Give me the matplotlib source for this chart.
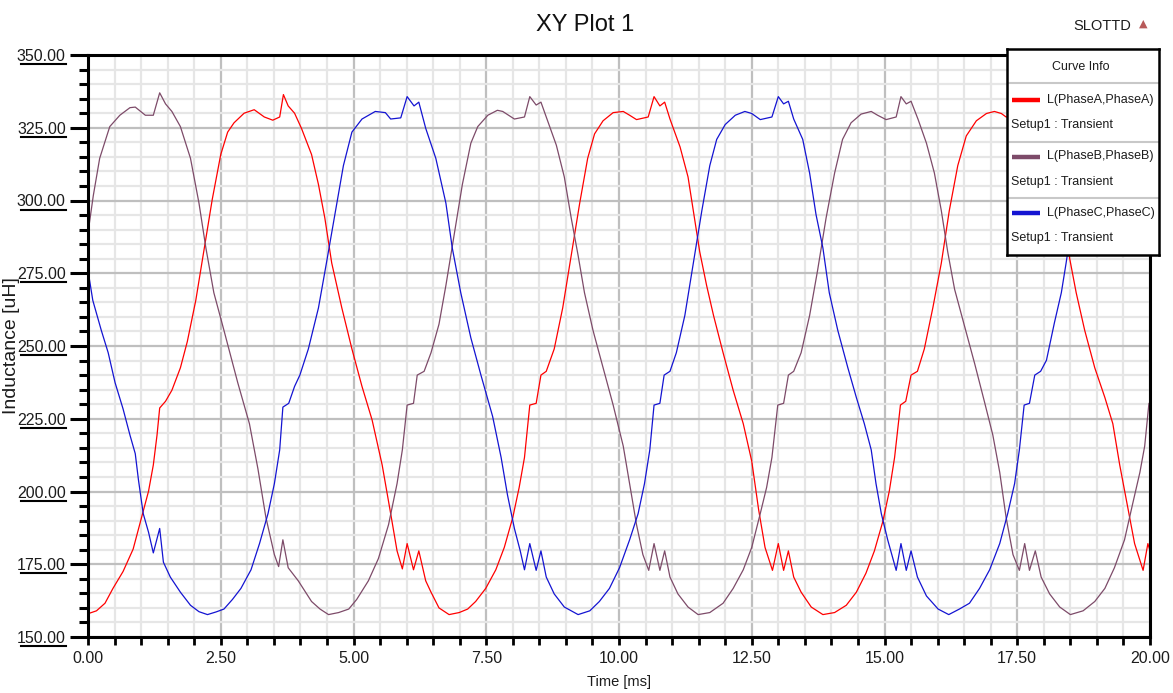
import matplotlib.pyplot as plt
import matplotlib.transforms as mtransforms
from matplotlib.ticker import MultipleLocator, FormatStrFormatter

# values (time in ms, inductance in uH)
t_a = [0.00, 0.16, 0.32, 0.47, 0.66, 0.85, 1.01, 1.14, 1.23, 1.30, 1.35, 1.46, 1.58, 1.74, 1.87,
       2.03, 2.18, 2.34, 2.50, 2.63, 2.75, 2.94, 3.13, 3.32, 3.48, 3.61, 3.68, 3.77, 3.89, 4.02,
       4.21, 4.34, 4.46, 4.59, 4.78, 4.97, 5.16, 5.35, 5.54, 5.70, 5.82, 5.92, 6.01, 6.13, 6.23,
       6.36, 6.46, 6.61, 6.80, 6.99, 7.15, 7.30, 7.49, 7.68, 7.84, 8.00, 8.12, 8.22, 8.32, 8.44,
       8.53, 8.63, 8.78, 8.94, 9.10, 9.26, 9.41, 9.54, 9.70, 9.89, 10.08, 10.20, 10.33, 10.55,
       10.66, 10.77, 10.86, 10.96, 11.15, 11.30, 11.40, 11.52, 11.65, 11.78, 11.96, 12.15, 12.34,
       12.50, 12.63, 12.75, 12.89, 13.00, 13.10, 13.19, 13.29, 13.43, 13.62, 13.84, 14.06, 14.28,
       14.47, 14.65, 14.81, 14.97, 15.09, 15.19, 15.30, 15.40, 15.50, 15.62, 15.75, 15.91, 16.07,
       16.22, 16.38, 16.54, 16.73, 16.92, 17.07, 17.20, 17.29, 17.50, 17.61, 17.72, 17.81, 17.91,
       18.10, 18.25, 18.35, 18.49, 18.61, 18.77, 18.96, 19.15, 19.30, 19.43, 19.59, 19.71, 19.87,
       19.96, 20.00]
l_a = [158.0, 159.0, 161.6, 166.7, 172.5, 180.2, 191.1, 200.1, 209.1, 219.4, 228.7, 231.0, 234.8,
       242.5, 251.5, 265.7, 282.4, 300.4, 315.8, 323.5, 326.7, 330.0, 331.2, 328.7, 327.6, 328.7,
       336.4, 332.5, 330.0, 324.8, 315.8, 305.5, 294.0, 278.5, 263.1, 249.0, 236.1, 224.6, 209.1,
       192.4, 179.6, 173.4, 182.1, 173.1, 179.6, 169.3, 165.4, 160.0, 157.7, 158.4, 159.6, 162.2,
       166.7, 173.1, 180.8, 191.1, 201.4, 211.7, 229.7, 230.3, 240.0, 241.3, 249.0, 263.1, 281.1,
       299.1, 314.5, 322.9, 327.4, 330.2, 330.6, 329.3, 327.8, 328.7, 335.7, 332.5, 333.8, 328.0,
       318.4, 308.1, 296.5, 282.4, 270.8, 260.5, 247.7, 234.8, 223.3, 210.4, 193.7, 180.8, 172.9,
       182.1, 172.9, 179.6, 170.6, 165.4, 160.3, 157.7, 158.4, 160.9, 165.4, 171.9, 179.6, 189.8,
       200.1, 211.7, 229.7, 231.0, 240.0, 241.3, 249.0, 263.1, 278.5, 296.5, 312.0, 322.2, 327.4,
       329.9, 330.6, 329.9, 328.7, 328.7, 335.7, 332.5, 333.8, 328.0, 318.4, 308.1, 296.5, 279.8,
       268.3, 255.4, 242.5, 232.3, 223.3, 209.1, 193.7, 182.1, 172.9, 182.1, 179.6]

t_b = [0.00, 0.10, 0.22, 0.41, 0.60, 0.79, 0.89, 1.08, 1.23, 1.35, 1.46, 1.58, 1.74, 1.93, 2.09,
       2.22, 2.37, 2.56, 2.82, 3.04, 3.20, 3.35, 3.51, 3.59, 3.67, 3.77, 3.96, 4.21, 4.37, 4.53,
       4.72, 4.91, 5.06, 5.28, 5.47, 5.66, 5.82, 5.92, 6.01, 6.13, 6.20, 6.33, 6.46, 6.61, 6.74,
       6.90, 7.05, 7.21, 7.34, 7.53, 7.71, 7.81, 8.03, 8.22, 8.32, 8.44, 8.53, 8.63, 8.82, 8.97,
       9.10, 9.23, 9.35, 9.51, 9.70, 9.89, 10.08, 10.20, 10.33, 10.45, 10.56, 10.66, 10.77, 10.86,
       10.96, 11.11, 11.30, 11.49, 11.71, 11.96, 12.15, 12.34, 12.50, 12.66, 12.78, 12.88, 12.99,
       13.10, 13.19, 13.29, 13.43, 13.59, 13.74, 13.90, 14.06, 14.21, 14.37, 14.56, 14.75, 14.87,
       15.03, 15.22, 15.31, 15.41, 15.50, 15.63, 15.79, 15.94, 16.07, 16.19, 16.32, 16.51, 16.70,
       16.88, 17.04, 17.17, 17.29, 17.42, 17.54, 17.64, 17.73, 17.84, 17.95, 18.11, 18.30, 18.50,
       18.74, 18.96, 19.15, 19.33, 19.52, 19.68, 19.81, 19.90, 19.98, 20.00]
l_b = [288.8, 301.7, 314.5, 325.4, 329.3, 331.9, 332.1, 329.3, 329.3, 337.0, 333.2, 330.6, 325.4,
       314.5, 299.1, 283.7, 268.3, 255.4, 237.4, 223.3, 207.8, 191.1, 178.3, 174.2, 183.4, 173.8,
       169.3, 162.2, 159.6, 157.7, 158.4, 159.6, 162.9, 169.3, 177.0, 188.6, 202.7, 214.3, 229.7,
       230.3, 240.0, 241.3, 247.7, 257.5, 270.8, 288.8, 305.5, 319.7, 325.4, 329.3, 331.0, 330.6,
       328.0, 328.7, 335.7, 332.8, 333.8, 328.7, 319.0, 308.1, 294.0, 281.1, 268.3, 255.4, 242.5,
       229.7, 215.6, 202.7, 188.6, 178.3, 172.9, 182.1, 172.9, 179.6, 170.6, 164.8, 160.3, 157.7,
       158.4, 161.6, 166.7, 173.1, 180.8, 192.4, 201.4, 211.7, 229.7, 230.3, 240.0, 241.3, 247.7,
       260.5, 276.0, 294.0, 309.4, 321.0, 326.7, 329.7, 330.6, 329.3, 327.8, 328.7, 335.7, 333.2,
       334.1, 328.0, 319.7, 309.4, 296.5, 282.4, 269.5, 256.7, 243.8, 231.0, 219.4, 206.6, 191.1,
       178.3, 172.9, 182.1, 172.9, 179.6, 170.6, 164.8, 160.3, 157.7, 159.0, 162.2, 166.7, 173.8,
       183.4, 196.3, 206.6, 215.6, 230.3, 230.3]

t_c = [0.00, 0.09, 0.25, 0.38, 0.51, 0.66, 0.79, 0.89, 0.95, 1.04, 1.14, 1.23, 1.35, 1.42, 1.55,
       1.74, 1.93, 2.09, 2.25, 2.41, 2.56, 2.72, 2.88, 3.07, 3.23, 3.39, 3.51, 3.61, 3.67, 3.78,
       3.89, 3.99, 4.15, 4.34, 4.49, 4.65, 4.81, 4.97, 5.16, 5.41, 5.60, 5.70, 5.89, 6.01, 6.14,
       6.23, 6.36, 6.55, 6.74, 6.86, 7.02, 7.21, 7.40, 7.62, 7.78, 7.90, 8.03, 8.14, 8.22, 8.32,
       8.44, 8.53, 8.63, 8.78, 8.97, 9.23, 9.45, 9.63, 9.82, 10.01, 10.20, 10.36, 10.48, 10.58,
       10.66, 10.77, 10.85, 10.96, 11.08, 11.24, 11.40, 11.56, 11.71, 11.84, 12.00, 12.19, 12.37,
       12.50, 12.66, 12.88, 13.00, 13.10, 13.19, 13.29, 13.46, 13.59, 13.71, 13.84, 13.96, 14.12,
       14.31, 14.47, 14.62, 14.75, 14.84, 14.94, 15.06, 15.22, 15.31, 15.41, 15.50, 15.62, 15.79,
       16.01, 16.21, 16.41, 16.60, 16.79, 16.98, 17.17, 17.32, 17.45, 17.54, 17.63, 17.73, 17.83,
       17.94, 18.05, 18.20, 18.33, 18.42, 18.53, 18.66, 18.79, 18.95, 19.14, 19.32, 19.45, 19.61,
       19.83, 19.95, 20.00]
l_c = [276.0, 265.7, 255.4, 247.7, 237.4, 228.4, 219.4, 213.0, 204.0, 192.4, 186.0, 178.9, 187.3,
       175.7, 170.6, 165.4, 160.9, 158.7, 157.7, 158.6, 159.6, 162.9, 166.7, 173.1, 182.1, 192.4,
       202.7, 214.3, 229.0, 230.3, 236.1, 240.0, 249.0, 263.1, 278.5, 295.2, 312.0, 323.5, 328.0,
       330.6, 330.2, 328.0, 328.4, 335.7, 332.5, 333.8, 324.8, 314.5, 299.1, 283.7, 268.3, 252.8,
       240.0, 225.8, 211.7, 198.8, 187.3, 179.6, 173.1, 182.1, 172.9, 179.6, 170.6, 164.8, 160.3,
       157.7, 159.0, 162.2, 166.7, 173.8, 183.4, 192.4, 202.7, 214.3, 229.7, 230.3, 240.0, 241.3,
       247.7, 260.5, 278.5, 296.5, 312.0, 321.0, 326.1, 329.3, 330.6, 329.9, 327.8, 328.7, 335.7,
       333.2, 334.1, 328.0, 321.0, 309.4, 295.2, 283.7, 268.3, 255.4, 242.5, 232.3, 223.3, 214.3,
       202.7, 192.4, 183.4, 172.9, 182.1, 172.9, 179.6, 170.6, 164.1, 159.6, 157.7, 159.6, 161.6,
       166.7, 173.1, 182.1, 192.4, 202.7, 214.3, 229.7, 230.3, 240.0, 241.3, 245.1, 258.0, 268.3,
       278.5, 292.0, 310.0, 321.0, 326.1, 329.3, 330.6, 329.9, 327.8, 328.7, 335.7, 333.0]

names = ['L(PhaseA,PhaseA)', 'L(PhaseB,PhaseB)', 'L(PhaseC,PhaseC)']
colors = ['#ff0000', '#7d4b69', '#1414d2']

plt.rcParams['font.family'] = ['Liberation Sans', 'DejaVu Sans']
ink = '#1c1c1c'

fig = plt.figure(figsize=(11.73, 6.93), dpi=100)
W, H = 1173, 693
ax = fig.add_axes([88 / W, 1 - 637 / H, 1062 / W, 582 / H])

ax.plot(t_a, l_a, color=colors[0], lw=0.9)
ax.plot(t_b, l_b, color=colors[1], lw=0.9)
ax.plot(t_c, l_c, color=colors[2], lw=0.9)

ax.set_xlim(0, 20)
ax.set_ylim(150, 350)
ax.xaxis.set_major_locator(MultipleLocator(2.5))
ax.xaxis.set_minor_locator(MultipleLocator(0.5))
ax.yaxis.set_major_locator(MultipleLocator(25))
ax.yaxis.set_minor_locator(MultipleLocator(5))
ax.xaxis.set_major_formatter(FormatStrFormatter('%.2f'))
ax.yaxis.set_major_formatter(FormatStrFormatter('%.2f'))

ax.set_axisbelow(True)
ax.grid(which='major', color='#bfbfbf', lw=1.6)
ax.grid(which='minor', color='#e6e6e6', lw=1.6)
for s in ax.spines.values():
    s.set_linewidth(2.2)
    s.set_color('black')

ax.tick_params(axis='y', which='major', length=13, width=2.2, pad=3, labelsize=11.5, labelcolor=ink)
ax.tick_params(axis='y', which='minor', length=6.5, width=2.2)
ax.tick_params(axis='x', which='both', length=6, width=2, pad=4, labelsize=11.5, labelcolor=ink)

# underline below each y tick label
under = mtransforms.offset_copy(mtransforms.blended_transform_factory(ax.transAxes, ax.transData),
                                fig=fig, y=-9, units='dots')
for v in range(150, 351, 25):
    ax.plot([-0.063, -0.021], [v, v], transform=under, color='black', lw=1.5, clip_on=False)

ax.set_xlabel('Time [ms]', fontsize=10.5, color=ink)
ax.xaxis.set_label_coords(0.5, -0.066)
ax.set_ylabel('Inductance [uH]', fontsize=14, color=ink)
ax.yaxis.set_label_coords(-0.064, 0.5)

fig.text(0.499, 0.964, 'XY Plot 1', ha='center', va='center', fontsize=17, color='#111111')
fig.text(0.940, 0.962, 'SLOTTD', ha='center', va='center', fontsize=10.5, color=ink)
fig.text(0.975, 0.966, '\u25b2', ha='center', va='center', fontsize=8, color='#b85a5a',
         family='DejaVu Sans')

# curve info box
lg = fig.add_axes([1007 / W, 1 - 255 / H, 152 / W, 206 / H])
lg.set_xlim(0, 152)
lg.set_ylim(206, 0)
lg.set_xticks([])
lg.set_yticks([])
lg.set_facecolor('white')
for s in lg.spines.values():
    s.set_linewidth(1.8)
    s.set_color('black')
lg.text(74, 18, 'Curve Info', ha='center', va='center', fontsize=9, color=ink)
for yy in [34, 93, 149]:
    lg.plot([0, 152], [yy, yy], color='#c8c8c8', lw=1.5)
for i in range(3):
    y0 = 51 + i * 56.5
    lg.plot([5, 33], [y0, y0], color=colors[i], lw=3.2, solid_capstyle='butt')
    lg.text(40, y0, names[i], ha='left', va='center', fontsize=9, color=ink)
    lg.text(4, y0 + 25, 'Setup1 : Transient', ha='left', va='center', fontsize=9, color=ink)

fig.savefig('out.png', dpi=100)
